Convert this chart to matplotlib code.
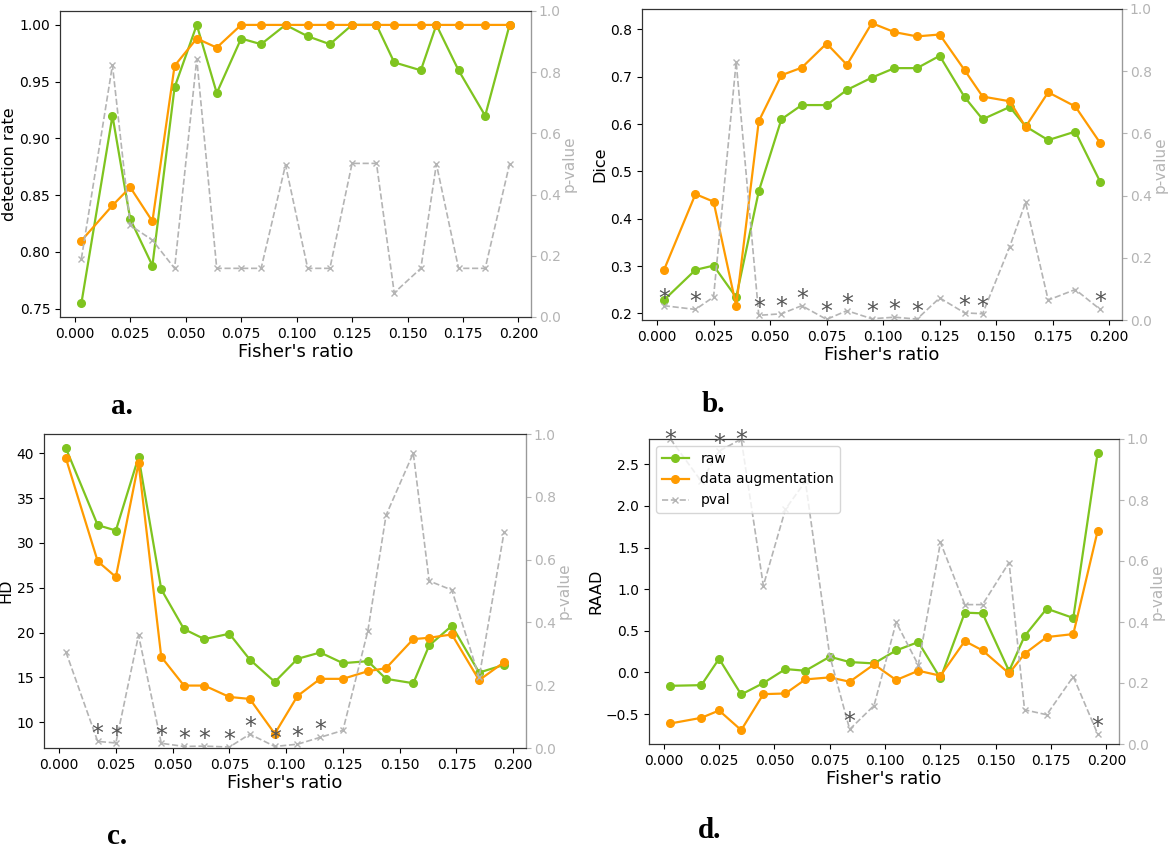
import numpy as np
import matplotlib
matplotlib.use("Agg")
import matplotlib.pyplot as plt

W, H = 1170, 848

GREEN = '#7fc41f'
ORANGE = '#ff9b00'
PGRAY = '#b4b4b4'
STAR = '#555555'

fisher = [0.003, 0.017, 0.025, 0.035, 0.045, 0.055, 0.064, 0.075, 0.084, 0.095,
          0.105, 0.115, 0.125, 0.136, 0.144, 0.156, 0.163, 0.173, 0.185, 0.196]

# a. detection rate
det_raw = [0.755, 0.920, 0.829, 0.788, 0.945, 1.000, 0.940, 0.988, 0.983, 1.000,
           0.990, 0.983, 1.000, 1.000, 0.967, 0.960, 1.000, 0.960, 0.920, 1.000]
det_aug = [0.810, 0.841, 0.857, 0.827, 0.964, 0.988, 0.980, 1.000, 1.000, 1.000,
           1.000, 1.000, 1.000, 1.000, 1.000, 1.000, 1.000, 1.000, 1.000, 1.000]
det_p = [0.191, 0.823, 0.300, 0.251, 0.159, 0.843, 0.159, 0.159, 0.159, 0.497,
         0.159, 0.159, 0.502, 0.502, 0.079, 0.159, 0.500, 0.159, 0.159, 0.500]
det_star = []

# b. Dice
dice_raw = [0.228, 0.292, 0.301, 0.234, 0.458, 0.610, 0.640, 0.640, 0.672, 0.698,
            0.718, 0.718, 0.744, 0.657, 0.610, 0.636, 0.595, 0.566, 0.584, 0.478]
dice_aug = [0.291, 0.452, 0.436, 0.216, 0.606, 0.703, 0.719, 0.770, 0.725, 0.813,
            0.794, 0.785, 0.789, 0.714, 0.658, 0.648, 0.594, 0.667, 0.637, 0.560]
dice_p = [0.046, 0.034, 0.074, 0.830, 0.015, 0.020, 0.046, 0.002, 0.030, 0.004,
          0.009, 0.003, 0.071, 0.023, 0.020, 0.236, 0.378, 0.064, 0.098, 0.034]
dice_star = [0, 1, 4, 5, 6, 7, 8, 9, 10, 11, 13, 14, 19]

# c. HD
hd_raw = [40.56, 31.99, 31.39, 39.59, 24.83, 20.40, 19.28, 19.88, 17.00, 14.51,
          17.08, 17.79, 16.60, 16.82, 14.85, 14.36, 18.57, 20.77, 15.55, 16.41]
hd_aug = [39.44, 27.96, 26.21, 38.92, 17.30, 14.10, 14.10, 12.83, 12.61, 8.73,
          12.94, 14.85, 14.85, 15.70, 16.04, 19.28, 19.43, 19.80, 14.70, 16.71]
hd_p = [0.306, 0.021, 0.016, 0.359, 0.015, 0.005, 0.006, 0.003, 0.044, 0.005,
        0.012, 0.034, 0.056, 0.373, 0.741, 0.939, 0.532, 0.503, 0.225, 0.688]
hd_star = [1, 2, 4, 5, 6, 7, 8, 9, 10, 11]

# d. RAAD
raad_raw = [-0.160, -0.152, 0.165, -0.264, -0.127, 0.041, 0.021, 0.189, 0.125, 0.109,
            0.265, 0.365, -0.071, 0.718, 0.710, 0.017, 0.437, 0.766, 0.654, 2.636]
raad_aug = [-0.612, -0.544, -0.456, -0.692, -0.260, -0.252, -0.083, -0.059, -0.111, 0.097,
            -0.091, 0.021, -0.039, 0.377, 0.265, -0.011, 0.225, 0.425, 0.461, 1.699]
raad_p = [1.000, 0.861, 0.960, 1.000, 0.519, 0.770, 0.861, 0.289, 0.048, 0.126,
          0.399, 0.259, 0.661, 0.457, 0.457, 0.595, 0.112, 0.096, 0.221, 0.033]
raad_star = [0, 2, 3, 8, 19]

panels = [
    ('detection rate', det_raw, det_aug, det_p, det_star, (60, 11, 531, 317), 'a.', (122, 406), False),
    ('Dice', dice_raw, dice_aug, dice_p, dice_star, (642, 9, 1122, 320), 'b.', (713, 405), False),
    ('HD', hd_raw, hd_aug, hd_p, hd_star, (44, 434, 526, 748), 'c.', (117, 836), False),
    ('RAAD', raad_raw, raad_aug, raad_p, raad_star, (649, 439, 1119, 744), 'd.', (710, 830), True),
]

fig = plt.figure(figsize=(W / 100, H / 100), dpi=100)

for ylab, raw, aug, pv, stars, box, tag, tagpos, show_leg in panels:
    l, t, r, b = box
    ax = fig.add_axes([l / W, 1 - b / H, (r - l) / W, (b - t) / H])
    ax2 = ax.twinx()

    l1, = ax.plot(fisher, raw, '-o', color=GREEN, lw=1.6, ms=5.5, label='raw')
    l2, = ax.plot(fisher, aug, '-o', color=ORANGE, lw=1.6, ms=5.5, label='data augmentation')
    l3, = ax2.plot(fisher, pv, '--x', color=PGRAY, lw=1.2, ms=5, label='pval')
    for i in stars:
        ax2.text(fisher[i], min(pv[i], 0.975), '*', ha='center', va='baseline',
                 fontsize=17, color=STAR)

    ax2.set_ylim(0, 1)
    ax.set_xlabel("Fisher's ratio", fontsize=13, labelpad=2)
    ax.set_ylabel(ylab, fontsize=11.5, labelpad=2)
    ax2.set_ylabel('p-value', fontsize=11, color=PGRAY, labelpad=1)
    ax.tick_params(labelsize=10)
    ax2.tick_params(labelsize=10, colors=PGRAY, pad=2)
    ax2.spines['right'].set_color('#999999')
    for sp in ['left', 'top', 'bottom']:
        ax2.spines[sp].set_color('#333333')

    if show_leg:
        ax2.legend(handles=[l1, l2, l3], loc='upper left', fontsize=10)

    fig.text(tagpos[0] / W, 1 - tagpos[1] / H, tag, ha='center', va='center',
             fontsize=21, fontweight='bold', family='Liberation Serif')

fig.savefig('out.png', dpi=100)
